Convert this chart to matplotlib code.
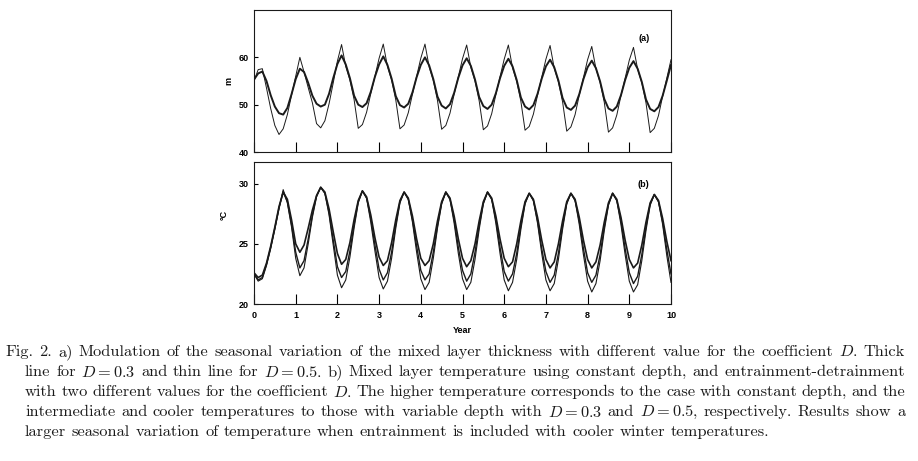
import matplotlib.pyplot as plt
import numpy as np

plt.rcParams['mathtext.fontset'] = 'cm'

# time axis, 0.1 year steps
year = np.round(np.arange(0, 10.01, 0.1), 1)

# (a) mixed layer thickness (m)
depth_d03 = [  # thick line, D = 0.3
    55.3, 56.6, 57.0, 55.0, 52.0, 49.6, 48.2, 47.9, 49.3, 52.2,
    55.4, 57.6, 56.9, 54.6, 51.9, 50.2, 49.6, 50.0, 52.3, 55.6,
    58.6, 60.4, 58.5, 55.6, 51.9, 50.0, 49.5, 50.3, 52.7, 55.9,
    58.5, 60.2, 58.4, 55.5, 51.8, 49.9, 49.4, 50.2, 52.6, 55.8,
    58.4, 60.0, 58.3, 55.4, 51.7, 49.8, 49.2, 50.1, 52.5, 55.7,
    58.3, 59.8, 58.2, 55.3, 51.6, 49.7, 49.1, 50.0, 52.4, 55.6,
    58.2, 59.7, 58.1, 55.2, 51.5, 49.6, 49.0, 49.9, 52.3, 55.5,
    58.1, 59.5, 57.9, 55.1, 51.4, 49.4, 48.9, 49.8, 52.2, 55.4,
    57.9, 59.3, 57.7, 54.9, 51.2, 49.2, 48.7, 49.6, 52.0, 55.2,
    57.8, 59.2, 57.6, 54.8, 51.1, 49.1, 48.6, 49.5, 51.9, 55.1,
    58.4]
depth_d05 = [  # thin line, D = 0.5
    55.0, 57.4, 57.6, 53.5, 49.2, 45.6, 43.7, 44.9, 47.9, 52.0,
    56.0, 60.0, 56.9, 53.6, 50.4, 46.0, 45.1, 46.6, 50.2, 54.6,
    59.2, 62.7, 58.1, 55.2, 51.1, 45.0, 45.8, 48.4, 52.3, 56.0,
    59.8, 62.8, 58.1, 55.2, 51.0, 44.9, 45.7, 48.3, 52.2, 56.0,
    59.8, 62.8, 58.0, 55.1, 50.9, 44.8, 45.6, 48.2, 52.2, 55.9,
    59.7, 62.6, 57.9, 55.0, 50.8, 44.7, 45.5, 48.1, 52.1, 55.9,
    59.6, 62.6, 57.8, 54.9, 50.7, 44.6, 45.4, 48.0, 52.0, 55.8,
    59.6, 62.5, 57.7, 54.8, 50.6, 44.4, 45.3, 47.9, 52.0, 55.7,
    59.5, 62.3, 57.6, 54.7, 50.5, 44.2, 45.1, 47.8, 51.9, 55.6,
    59.4, 62.1, 57.5, 54.6, 50.4, 44.1, 45.0, 47.7, 51.8, 55.6,
    59.5]

# (b) mixed layer temperature (deg C)
temp_const = [
    22.6, 22.2, 22.4, 23.4, 24.8, 26.4, 28.1, 29.3, 28.7, 27.0,
    25.0, 24.3, 24.9, 26.3, 27.8, 29.0, 29.7, 29.3, 27.9, 26.0,
    24.2, 23.3, 23.7, 25.1, 27.0, 28.6, 29.4, 28.9, 27.4, 25.5,
    23.9, 23.2, 23.6, 25.1, 27.0, 28.6, 29.3, 28.8, 27.3, 25.4,
    23.8, 23.2, 23.6, 25.0, 26.9, 28.5, 29.3, 28.8, 27.3, 25.4,
    23.8, 23.1, 23.6, 25.0, 26.9, 28.5, 29.3, 28.8, 27.3, 25.4,
    23.8, 23.1, 23.5, 25.0, 26.9, 28.5, 29.2, 28.7, 27.2, 25.3,
    23.7, 23.0, 23.5, 25.0, 26.9, 28.5, 29.2, 28.7, 27.2, 25.3,
    23.7, 23.0, 23.5, 24.9, 26.8, 28.4, 29.2, 28.7, 27.2, 25.3,
    23.7, 23.0, 23.4, 24.9, 26.8, 28.4, 29.1, 28.6, 27.1, 25.2,
    23.6]
temp_d03 = [
    22.5, 22.0, 22.2, 23.3, 24.7, 26.3, 28.0, 29.3, 28.5, 26.6,
    24.3, 23.0, 23.6, 25.4, 27.4, 29.0, 29.7, 29.2, 27.6, 25.3,
    23.1, 22.2, 22.7, 24.4, 26.6, 28.5, 29.4, 28.8, 27.1, 24.9,
    22.9, 22.0, 22.6, 24.3, 26.6, 28.5, 29.3, 28.7, 27.0, 24.8,
    22.8, 22.0, 22.5, 24.3, 26.5, 28.4, 29.3, 28.7, 27.0, 24.7,
    22.8, 21.9, 22.5, 24.3, 26.5, 28.4, 29.3, 28.7, 27.0, 24.7,
    22.7, 21.9, 22.5, 24.2, 26.5, 28.4, 29.2, 28.6, 26.9, 24.6,
    22.7, 21.8, 22.4, 24.2, 26.5, 28.4, 29.2, 28.6, 26.9, 24.6,
    22.6, 21.8, 22.4, 24.1, 26.4, 28.3, 29.2, 28.6, 26.9, 24.6,
    22.6, 21.7, 22.3, 24.1, 26.4, 28.3, 29.1, 28.5, 26.8, 24.5,
    22.5]
temp_d05 = [
    22.5, 21.9, 22.1, 23.2, 24.6, 26.2, 27.9, 29.5, 28.4, 26.4,
    23.8, 22.35, 23.0, 25.0, 27.2, 28.9, 29.7, 29.2, 27.4, 24.9,
    22.4, 21.35, 22.0, 23.9, 26.3, 28.4, 29.4, 28.8, 26.8, 24.4,
    22.2, 21.25, 21.9, 23.8, 26.3, 28.4, 29.3, 28.7, 26.8, 24.3,
    22.1, 21.2, 21.8, 23.8, 26.3, 28.3, 29.3, 28.7, 26.7, 24.2,
    22.1, 21.2, 21.8, 23.7, 26.2, 28.3, 29.3, 28.7, 26.7, 24.2,
    22.0, 21.1, 21.8, 23.7, 26.2, 28.3, 29.2, 28.6, 26.7, 24.2,
    22.0, 21.1, 21.7, 23.7, 26.2, 28.3, 29.2, 28.6, 26.6, 24.1,
    21.9, 21.0, 21.7, 23.6, 26.1, 28.2, 29.2, 28.6, 26.6, 24.1,
    21.9, 21.0, 21.6, 23.6, 26.1, 28.2, 29.1, 28.5, 26.6, 24.0,
    21.8]

caption = [
    "Fig. 2. a) Modulation of the seasonal variation of the mixed layer thickness with different value for the coefficient $D$. Thick",
    "line for $D=0.3$ and thin line for $D=0.5$. b) Mixed layer temperature using constant depth, and entrainment-detrainment",
    "with two different values for the coefficient $D$. The higher temperature corresponds to the case with constant depth, and the",
    "intermediate and cooler temperatures to those with variable depth with $D=0.3$ and $D=0.5$, respectively. Results show a",
    "larger seasonal variation of temperature when entrainment is included with cooler winter temperatures.",
]

W, H = 918, 461
fig = plt.figure(figsize=(W / 100, H / 100), dpi=100)
ax1 = fig.add_axes([254 / W, 1 - 152 / H, 417 / W, 142 / H])
ax2 = fig.add_axes([254 / W, 1 - 304 / H, 417 / W, 142 / H])

ink = '#1a1a1a'
tick_font = dict(family='Liberation Sans', weight='bold', size=6.5)

ax1.plot(year, depth_d05, color=ink, lw=0.7)
ax1.plot(year, depth_d03, color=ink, lw=1.4)
ax1.set_ylim(40, 70)
ax1.set_yticks([40, 50, 60])
ax1.text(0.935, 0.80, '(a)', transform=ax1.transAxes, ha='center', va='center', **tick_font)
ax1.set_ylabel('m', rotation=90, **tick_font)
ax1.yaxis.set_label_coords(-0.05, 0.5)

ax2.plot(year, temp_const, color=ink, lw=1.2)
ax2.plot(year, temp_d03, color=ink, lw=1.0)
ax2.plot(year, temp_d05, color=ink, lw=0.8)
ax2.set_ylim(20, 31.8)
ax2.set_yticks([20, 25, 30])
ax2.text(0.933, 0.845, '(b)', transform=ax2.transAxes, ha='center', va='center', **tick_font)
ax2.set_ylabel('°C', rotation=90, **tick_font)
ax2.yaxis.set_label_coords(-0.06, 0.63)
ax2.set_xlabel('Year', labelpad=4, **tick_font)

for ax in (ax1, ax2):
    ax.set_xlim(0, 10)
    ax.set_xticks(range(11))
    ax.tick_params(axis='x', direction='in', length=7, width=0.8, pad=5, top=False)
    ax.tick_params(axis='y', direction='in', length=3, width=0.8, pad=4)
    for sp in ax.spines.values():
        sp.set_linewidth(0.8)
        sp.set_color(ink)
    for lab in ax.get_xticklabels() + ax.get_yticklabels():
        lab.set_fontfamily('Liberation Sans')
        lab.set_fontweight('bold')
        lab.set_fontsize(6.5)
ax1.set_xticklabels([])

# caption: justified lines, last line ragged
renderer = fig.canvas.get_renderer()
cap_y = [352, 372, 392, 412, 432]
cap_x = [5, 25, 25, 25, 25]
right = 905
cap_style = dict(family='cmr10', size=11.8, ha='left', va='center', color=ink)
for i, (txt, x0, y) in enumerate(zip(caption, cap_x, cap_y)):
    words = txt.split(' ')
    pieces = [fig.text(0, 1 - y / H, w, **cap_style) for w in words]
    widths = [p.get_window_extent(renderer).width for p in pieces]
    if i < len(caption) - 1:
        gap = (right - x0 - sum(widths)) / (len(words) - 1)
    else:
        sp = fig.text(0, 0, 'a a', **cap_style)
        gap = sp.get_window_extent(renderer).width - 2 * fig.text(0, 0, 'a', **cap_style).get_window_extent(renderer).width
        for t in fig.texts[-2:]:
            t.remove()
    x = x0
    for p, w in zip(pieces, widths):
        p.set_x(x / W)
        x += w + gap

fig.savefig('out.png', dpi=100)
